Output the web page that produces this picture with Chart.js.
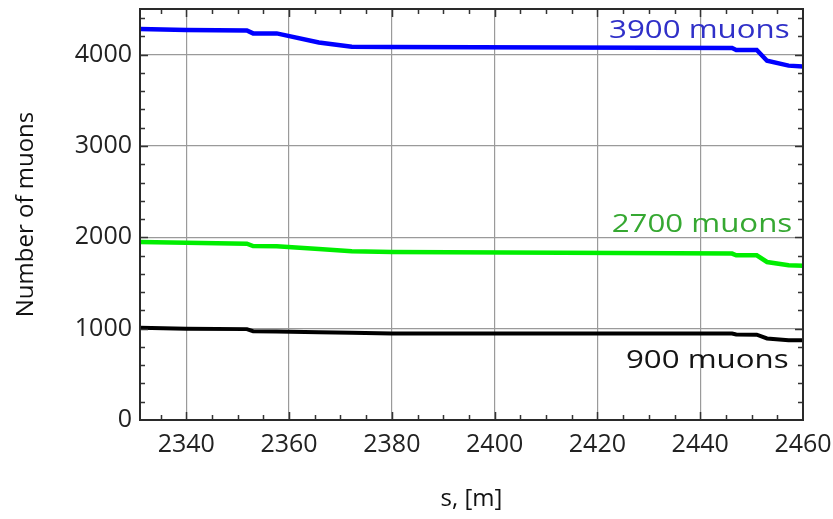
<!DOCTYPE html>
<html>
<head>
<meta charset="utf-8">
<script src="https://cdn.jsdelivr.net/npm/chart.js@4"></script>
<style>
  html, body { margin: 0; padding: 0; background: #fff; }
  #wrap { width: 833px; height: 519px; }
</style>
</head>
<body>
<div id="wrap"><canvas id="chart1" width="833" height="519"></canvas></div>
<script>
// distance along the line, m
const sPos = [2331, 2340, 2351.8, 2353, 2357.6, 2365.8, 2372.2, 2380, 2446.2, 2447, 2451, 2453, 2457.2, 2460];
// number of surviving muons for each start population
const muons3900 = [4281, 4270, 4265, 4233, 4233, 4134, 4087, 4085, 4073, 4051, 4051, 3934, 3880, 3870];
const muons2700 = [1949, 1940, 1931, 1905, 1903, 1873, 1847, 1840, 1822, 1803, 1803, 1730, 1694, 1690];
const muons900 = [1009, 1000, 995, 972, 968, 962, 955, 948, 947, 936, 934, 893, 874, 872];

const xTicks = [2340, 2360, 2380, 2400, 2420, 2440, 2460];
const yTicks = [0, 1000, 2000, 3000, 4000];

// curve labels: text, anchor s (right edge), anchor y (middle)
const labelText = ["3900 muons", "2700 muons", "900 muons"];
const labelS = [2457.4, 2457.9, 2457.2];
const labelY = [4262, 2131, 645];
const labelColor = ["#3030c8", "#36a832", "#141414"];

const toPts = vals => vals.map((v, i) => ({ x: sPos[i], y: v }));

// drop the edge padding Chart.js reserves for tick labels
const noEdgePad = s => { s.paddingLeft = 0; s.paddingRight = 0; s.paddingTop = 0; s.paddingBottom = 0; };

const frame = {
  id: "frame",
  afterDraw(chart) {
    const ctx = chart.ctx;
    const a = chart.chartArea;
    const xs = chart.scales.x, ys = chart.scales.y;
    ctx.save();
    ctx.strokeStyle = "#333";
    ctx.lineWidth = 1.5;
    ctx.beginPath();
    // minor ticks, every 5 m and every 200 muons
    for (let v = 2335; v < 2460; v += 5) {
      const len = v % 20 === 0 ? 8 : 5;
      const px = Math.round(xs.getPixelForValue(v)) + 0.5;
      if (px <= a.left + 1) continue;
      ctx.moveTo(px, a.bottom); ctx.lineTo(px, a.bottom - len);
      ctx.moveTo(px, a.top); ctx.lineTo(px, a.top + len);
    }
    for (let v = 200; v < 4500; v += 200) {
      const len = v % 1000 === 0 ? 8 : 5;
      const py = Math.round(ys.getPixelForValue(v)) + 0.5;
      ctx.moveTo(a.left, py); ctx.lineTo(a.left + len, py);
      ctx.moveTo(a.right, py); ctx.lineTo(a.right - len, py);
    }
    ctx.stroke();
    ctx.lineWidth = 2;
    ctx.strokeStyle = "#2a2a2a";
    ctx.strokeRect(a.left, a.top, a.right - a.left, a.bottom - a.top);

    ctx.font = "25px 'Open Sans'";
    ctx.textAlign = "right";
    ctx.textBaseline = "middle";
    labelText.forEach((t, i) => {
      const px = xs.getPixelForValue(labelS[i]);
      const py = ys.getPixelForValue(labelY[i]);
      ctx.save();
      ctx.translate(px, py);
      ctx.scale(1.25, 1);
      ctx.fillStyle = labelColor[i];
      ctx.fillText(t, 0, 0);
      ctx.restore();
    });
    ctx.restore();
  }
};

const tickFont = { family: "'Open Sans'", size: 25 };

new Chart(document.getElementById("chart1"), {
  type: "line",
  data: {
    datasets: [
      { label: "3900 muons", data: toPts(muons3900), borderColor: "#0000ff", borderWidth: 4.5 },
      { label: "2700 muons", data: toPts(muons2700), borderColor: "#00ee00", borderWidth: 4.5 },
      { label: "900 muons", data: toPts(muons900), borderColor: "#000000", borderWidth: 4 }
    ]
  },
  options: {
    responsive: false,
    animation: false,
    layout: { padding: { top: 9, right: 30, left: 0, bottom: 0 } },
    elements: { point: { radius: 0 }, line: { tension: 0, borderCapStyle: "butt" } },
    plugins: { legend: { display: false }, tooltip: { enabled: false } },
    scales: {
      x: {
        type: "linear",
        min: 2331,
        max: 2460,
        afterBuildTicks: s => { s.ticks = xTicks.map(v => ({ value: v })); },
        afterFit: s => { s.height = 99; noEdgePad(s); },
        grid: { color: "#9a9a9a", lineWidth: 1.2, drawTicks: false },
        border: { display: false },
        ticks: { font: tickFont, color: "#222", padding: 10, maxRotation: 0, callback: v => v },
        title: { display: true, text: "s, [m]", font: { family: "'Open Sans'", size: 24 }, color: "#111", padding: { top: 0, bottom: 5 } }
      },
      y: {
        min: 0,
        max: 4500,
        afterBuildTicks: s => { s.ticks = yTicks.map(v => ({ value: v })); },
        afterFit: s => { s.width = 140; noEdgePad(s); },
        grid: { color: "#9a9a9a", lineWidth: 1.2, drawTicks: false },
        border: { display: false },
        ticks: { font: tickFont, color: "#222", padding: 8, callback: v => v },
        title: { display: true, text: "Number of muons", font: { family: "'Open Sans'", size: 24 }, color: "#111", padding: { top: 12, bottom: 0 } }
      }
    }
  },
  plugins: [frame]
});
</script>
</body>
</html>
